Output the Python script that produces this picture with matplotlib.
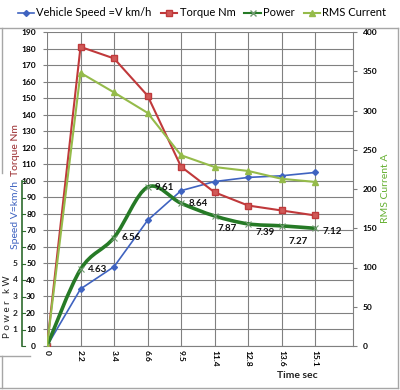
import numpy as np
import matplotlib
matplotlib.use("Agg")
import matplotlib.pyplot as plt
from matplotlib.path import Path
from matplotlib.patches import PathPatch
from matplotlib.lines import Line2D

plt.rcParams['font.family'] = ['Lato', 'DejaVu Sans']

time_labels = ['0', '2.2', '3.4', '6.6', '9.5', '11.4', '12.8', '13.6', '15.1']
speed = [0, 34.5, 48, 76, 94, 99.5, 102, 103, 105]
torque = [0, 181, 174, 151.5, 108.5, 93, 85, 82, 79]
power_kw = [0, 4.63, 6.56, 9.61, 8.64, 7.87, 7.39, 7.27, 7.12]
rms_current = [0, 348, 323, 297, 243, 228, 223, 213, 209]

# label offsets for power values (pixels)
label_offsets = [None, (7, 0), (8, 0), (7, 0), (8, 0), (3, -13), (7, -9), (7, -16), (7, -3)]

c_speed = '#3f63c0'
c_torque = '#c0393b'
c_power = '#267a26'
c_rms = '#95bb4a'
c_grid = '#808080'

W, H = 400, 390
fig = plt.figure(figsize=(4, 3.9), dpi=100)

def fx(px):
    return px / W

def fy(py):
    return 1 - py / H

ax = fig.add_axes([fx(47), fy(346), fx(353) - fx(47), fy(32) - fy(346)])
x = np.arange(len(time_labels))

ax.set_xlim(0, 9.13)
ax.set_ylim(0, 190)
ax.set_yticks(range(0, 191, 10))
ax.set_xticks(x)
ax.set_xticklabels(time_labels, rotation=-90, fontsize=6, fontweight='bold')
ax.tick_params(axis='x', length=0, pad=3)
ax.tick_params(axis='y', length=3, pad=5, labelsize=6, color=c_grid)
for lab in ax.get_yticklabels():
    lab.set_fontweight('bold')
ax.grid(True, color=c_grid, lw=0.8)
ax.set_axisbelow(True)
for s in ['top', 'right', 'left']:
    ax.spines[s].set_visible(False)
ax.spines['bottom'].set_color(c_grid)

ax2 = ax.twinx()
ax2.set_ylim(0, 400)
ax2.set_yticks(range(0, 401, 50))
ax2.tick_params(axis='y', length=3, pad=4, labelsize=6, color=c_grid)
for lab in ax2.get_yticklabels():
    lab.set_fontweight('bold')
for s in ['top', 'left', 'bottom']:
    ax2.spines[s].set_visible(False)
ax2.spines['right'].set_color(c_grid)

# lines
ax.plot(x, speed, color=c_speed, lw=1.2, marker='D', ms=3, zorder=4)
ax.plot(x, torque, color=c_torque, lw=1.5, marker='s', ms=4.5,
        mfc='#d05a58', mec=c_torque, zorder=4)
ax2.plot(x, rms_current, color=c_rms, lw=1.5, marker='^', ms=4.5, zorder=4)

# smoothed power line (scaled x10 onto left axis)
py = [p * 10 for p in power_kw]
pts = np.column_stack([x, py]).astype(float)
ext = np.vstack([pts[0], pts, pts[-1]])
verts = [tuple(pts[0])]
codes = [Path.MOVETO]
for i in range(1, len(ext) - 2):
    p0, p1, p2, p3 = ext[i - 1], ext[i], ext[i + 1], ext[i + 2]
    c1 = p1 + (p2 - p0) / 6
    c2 = p2 - (p3 - p1) / 6
    verts += [tuple(c1), tuple(c2), tuple(p2)]
    codes += [Path.CURVE4] * 3
ax.add_patch(PathPatch(Path(verts, codes), fc='none', ec=c_power, lw=2.6,
                       zorder=5, capstyle='round'))
ax.plot(x, py, ls='none', marker='x', ms=4, mew=0.8, color='#6f9a6f', zorder=6)

for i, v in enumerate(power_kw):
    if label_offsets[i] is None:
        continue
    ax.annotate(f'{v:.2f}', (x[i], py[i]), xytext=label_offsets[i],
                textcoords='offset pixels', ha='left', va='center',
                fontsize=7, fontweight='bold', color='#111111', zorder=7)

# secondary left axis (speed / power)
ax.add_line(Line2D([fx(22)] * 2, [fy(346), fy(346 - 165)], transform=fig.transFigure,
                   color='#2e6b2e', lw=1.2, clip_on=False))
for k in range(0, 11):
    yy = fy(346 - 16.5 * k)
    ax.add_line(Line2D([fx(22), fx(25)], [yy, yy], transform=fig.transFigure,
                       color='#2e6b2e', lw=0.8, clip_on=False))
for k in range(1, 6):
    fig.text(fx(15), fy(346 - 16.5 * k), str(k), ha='center', va='center',
             fontsize=6, fontweight='bold', color='#222222')

fig.text(fx(15), fy(150), 'Torque Nm', rotation=90, ha='center', va='center',
         fontsize=7.5, color='#9b2d30')
fig.text(fx(16), fy(215), 'Speed V=km/h', rotation=90, ha='center', va='center',
         fontsize=7.5, color=c_speed)
fig.text(fx(7), fy(307), 'P o w e r   k W', rotation=90, ha='center', va='center',
         fontsize=7, color='#222222')
fig.text(fx(385), fy(188), 'RMS Current A', rotation=90, ha='center', va='center',
         fontsize=7.5, color='#66b032')
fig.text(fx(297), fy(375), 'Time sec', ha='center', va='center',
         fontsize=7.5, fontweight='bold', color='#222222')

# legend
handles = [
    Line2D([], [], color=c_speed, lw=1.2, marker='D', ms=3),
    Line2D([], [], color=c_torque, lw=1.5, marker='s', ms=4, mfc='#d05a58'),
    Line2D([], [], color=c_power, lw=1.5, marker='x', ms=4, mec='#6f9a6f'),
    Line2D([], [], color=c_rms, lw=1.5, marker='^', ms=4),
]
fig.legend(handles, ['Vehicle Speed =V km/h', 'Torque Nm', 'Power', 'RMS Current'],
           loc='center', bbox_to_anchor=(fx(202), fy(13)), ncol=4, frameon=False,
           fontsize=8, handlelength=1.5, handletextpad=0.2, columnspacing=0.8,
           borderaxespad=0, borderpad=0)

# chart border
border = '#a6a6a6'
segs = [
    ([0, 398], [28, 28]),
    ([398, 398], [28, 388]),
    ([0, 398], [388, 388]),
    ([1.5, 1.5], [28, 173]),
    ([1.5, 1.5], [356, 388]),
    ([0, 30], [356, 356]),
]
for xs, ys in segs:
    fig.add_artist(Line2D([fx(v) for v in xs], [fy(v) for v in ys],
                          transform=fig.transFigure, color=border, lw=1))

fig.savefig('out.png', dpi=100)
